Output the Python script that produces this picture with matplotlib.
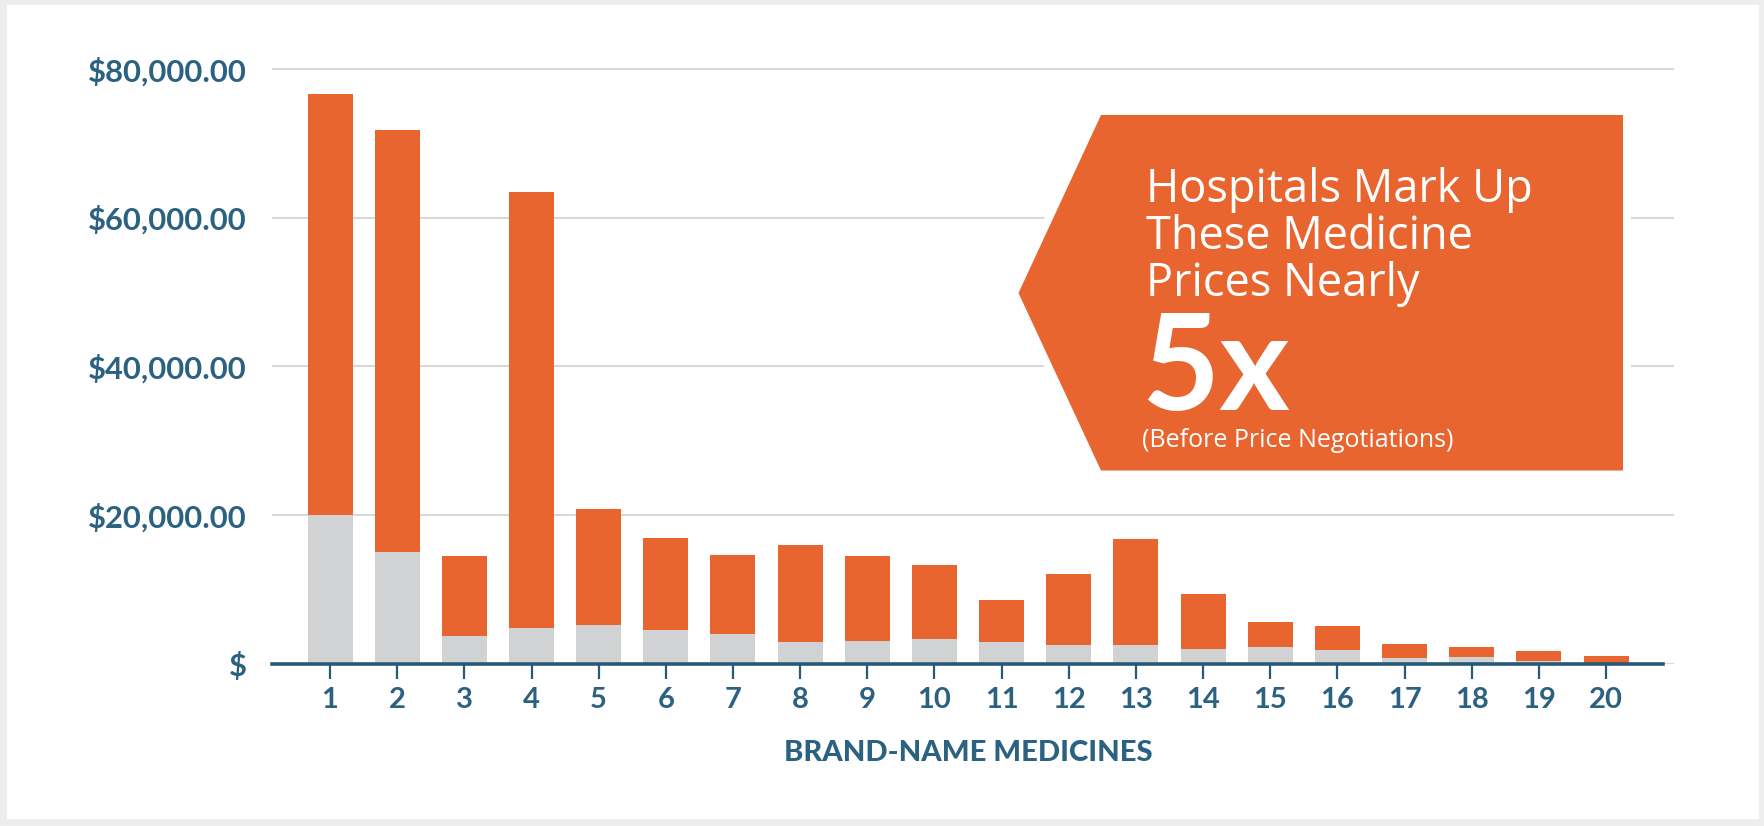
#Recreates the "Hospitals Mark Up These Medicine Prices Nearly 5x" bar chart.
#Stacked bars: acquisition cost (gray) under hospital mark-up (orange).

import matplotlib
matplotlib.use('Agg')
import matplotlib.pyplot as plt
from matplotlib.patches import Polygon, Rectangle
import numpy as np

#brand-name medicines, numbered 1..20
medicines = list(range(1, 21))

#price hospitals charge (total bar height), dollars
hospital_price = [76600, 71800, 14500, 63500, 20800, 17000, 14600, 16000, 14500, 13300,
                  8650, 12100, 16800, 9350, 5600, 5100, 2750, 2250, 1800, 1100]

#price hospitals pay (gray part), dollars
acquisition_cost = [20000, 15000, 3750, 4800, 5250, 4600, 4050, 3000, 3050, 3300,
                    2900, 2500, 2600, 2050, 2250, 1900, 750, 950, 350, 200]

y_ticks = [0, 20000, 40000, 60000, 80000]
y_tick_labels = ['$', '$20,000.00', '$40,000.00', '$60,000.00', '$80,000.00']

callout_lines = ['Hospitals Mark Up', 'These Medicine', 'Prices Nearly']
callout_big = '5x'
callout_note = '(Before Price Negotiations)'
x_title = 'BRAND-NAME MEDICINES'

#colours
orange = '#E8652F'
gray = '#D1D2D4'
teal = '#2C6281'
axis_teal = '#275A76'
grid_gray = '#D8D8D8'
frame_gray = '#EDEDED'

#fonts
bold_font = ['Lato', 'DejaVu Sans']
light_font = ['Open Sans', 'Lato', 'DejaVu Sans']

#figure size in pixels
W, H = 1764, 826
dpi = 100

def fx(px):
    #pixel x (from left) -> figure fraction
    return px / W

def fy(py):
    #pixel y (from top) -> figure fraction
    return 1 - py / H

fig = plt.figure(figsize=(W / dpi, H / dpi), dpi=dpi)
fig.patch.set_facecolor(frame_gray)

#white panel inside a thin gray frame
fig.add_artist(Rectangle((fx(7), fy(819)), fx(1759) - fx(7), fy(5) - fy(819),
                         transform=fig.transFigure, facecolor='white',
                         edgecolor='none', zorder=-1))

#axes placed so that $0 sits at y=664px and $20k steps are ~149px
ax = fig.add_axes([fx(272), fy(664), fx(1674) - fx(272), fy(60) - fy(664)])
ax.set_facecolor('none')
ax.set_xlim(0.136, 21.012)
ax.set_ylim(0, 81200)

x = np.array(medicines)
cost = np.array(acquisition_cost)
markup = np.array(hospital_price) - cost
bar_w = 0.67
ax.bar(x, cost, width=bar_w, color=gray, zorder=2)
ax.bar(x, markup, bottom=cost, width=bar_w, color=orange, zorder=2)

#horizontal grid lines
ax.set_yticks(y_ticks, y_tick_labels)
ax.yaxis.grid(True, color=grid_gray, linewidth=1.5)
ax.set_axisbelow(True)

for side in ['top', 'right', 'left']:
    ax.spines[side].set_visible(False)
ax.spines['bottom'].set_color(axis_teal)
ax.spines['bottom'].set_linewidth(2.6)
ax.spines['bottom'].set_bounds(0.136, 20.85)
ax.spines['bottom'].set_zorder(3)

ax.set_xticks(medicines, [str(m) for m in medicines])
ax.tick_params(axis='x', length=10.5, width=1.6, color=axis_teal, pad=6,
               labelsize=21, labelcolor=teal)
ax.tick_params(axis='y', length=0, pad=18, labelsize=22.3, labelcolor=teal)
for lbl in ax.get_xticklabels() + ax.get_yticklabels():
    lbl.set_family(bold_font)
    lbl.set_weight('bold')

fig.text(fx(968), fy(753), x_title, ha='center', va='center', color=teal,
         fontsize=21, family=bold_font, weight=900)

#callout arrow box, with a white halo that cuts the grid lines
pts = [(fx(1018.5), fy(293)), (fx(1101), fy(115)), (fx(1623), fy(115)),
       (fx(1623), fy(470.5)), (fx(1101), fy(470.5))]
fig.add_artist(Polygon(pts, closed=True, transform=fig.transFigure,
                       facecolor='white', edgecolor='white', linewidth=11.5,
                       joinstyle='miter', zorder=2))
fig.add_artist(Polygon(pts, closed=True, transform=fig.transFigure,
                       facecolor=orange, edgecolor='none', zorder=3))

baselines = [201.7, 249, 295.7]
for line, base in zip(callout_lines, baselines):
    fig.text(fx(1146), fy(base), line, ha='left', va='baseline', color='white',
             fontsize=32.5, family=light_font, weight='normal', zorder=4)

fig.text(fx(1141), fy(410), callout_big, ha='left', va='baseline', color='white',
         fontsize=97, family=bold_font, weight='bold', zorder=4)
fig.text(fx(1142), fy(446.7), callout_note, ha='left', va='baseline', color='white',
         fontsize=18, family=light_font, weight='normal', zorder=4)

fig.savefig('out.png', dpi=dpi, facecolor=fig.get_facecolor())
